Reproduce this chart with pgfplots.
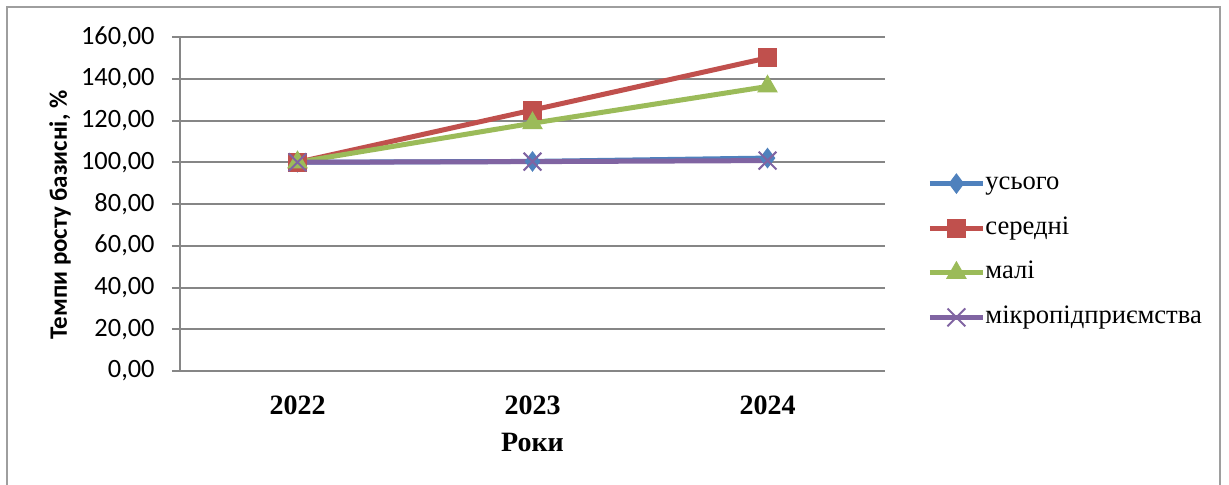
\documentclass[border=0pt]{standalone}
\usepackage{fontspec}
\setmainfont{Liberation Serif}
\newfontfamily\calibri{Carlito}
\usepackage{pgfplots}
\pgfplotsset{compat=1.18}
\definecolor{sblue}{HTML}{4F81BD}
\definecolor{sred}{HTML}{C0504D}
\definecolor{sgreen}{HTML}{9BBB59}
\definecolor{spurple}{HTML}{8064A2}
\definecolor{gridgray}{HTML}{868686}
\begin{document}
\begin{tikzpicture}
\begin{axis}[
  name=ax,
  scale only axis, width=352.5pt, height=167pt,
  xmin=-0.5, xmax=2.5, ymin=0, ymax=160,
  xtick={0,1,2}, xticklabels={2022,2023,2024},
  ytick={0,20,...,160},
  axis lines*=left,
  axis line style={gridgray, line width=1pt},
  ymajorgrids, grid style={gridgray, line width=1pt},
  tick align=outside, major tick length=4pt,
  xtick style={draw=none},
  ytick style={gridgray, line width=1pt},
  /pgf/number format/.cd, fixed, fixed zerofill, precision=2, use comma, 1000 sep={}, assume math mode=true,
  /pgfplots/.cd,
  yticklabel style={font=\calibri\fontsize{13.2}{15}\selectfont, inner sep=0pt, anchor=east, xshift=-8.5pt},
  xticklabel style={font=\bfseries\fontsize{14}{16}\selectfont, inner sep=0pt, anchor=north, yshift=-8pt},
  ylabel={Темпи росту базисні, \%},
  ylabel style={font=\calibri\bfseries\fontsize{12.5}{15}\selectfont, at={(axis description cs:-0.170,0.467)}, anchor=center, rotate=0},
  xlabel={Роки},
  xlabel style={font=\bfseries\fontsize{14}{16}\selectfont, at={(axis description cs:0.5,-0.2126)}, anchor=center},
  legend style={draw=none, fill=none, font=\fontsize{13.3}{15}\selectfont, at={(axis description cs:1.0596,0.3608)}, anchor=west, inner sep=0pt, row sep=10.3pt, nodes={inner sep=0pt, text height=9pt, text depth=3pt}},
  legend cell align=left,
  /tikz/every even column/.append style={column sep=2.5pt},
  legend image code/.code={\draw[mark repeat=2, mark phase=2, #1] plot coordinates {(0pt,0pt) (13.25pt,0pt) (26.5pt,0pt)};},
]
\addplot[sblue, line width=2.5pt, mark=diamond*, mark size=4.8pt, mark options={solid, fill=sblue, draw=sblue, line width=0.5pt}]
  coordinates {(0,100) (1,100.4) (2,102.0)};
\addlegendentry{усього}
\addplot[sred, line width=2.5pt, mark=square*, mark size=4.5pt, mark options={solid, fill=sred, draw=sred, line width=0.5pt}]
  coordinates {(0,100) (1,125.0) (2,150.0)};
\addlegendentry{середні}
\addplot[sgreen, line width=2.5pt, mark=triangle*, mark size=5.5pt, mark options={solid, fill=sgreen, draw=sgreen, line width=0.5pt}]
  coordinates {(0,100) (1,118.7) (2,136.3)};
\addlegendentry{малі}
\addplot[spurple, line width=2.5pt, mark=x, mark size=6.3pt, mark options={solid, draw=spurple, line width=1pt}]
  coordinates {(0,100) (1,100.3) (2,100.8)};
\addlegendentry{мікропідприємства}
\end{axis}
\draw[gridgray!80, line width=1pt] ([shift={(-86.5pt,-62pt)}]ax.south west) rectangle ([shift={(520pt,182pt)}]ax.south west);
\pgfresetboundingbox
\path[use as bounding box] ([shift={(-90pt,-56.5pt)}]ax.south west) rectangle ([shift={(524.5pt,185.5pt)}]ax.south west);
\end{tikzpicture}
\end{document}
